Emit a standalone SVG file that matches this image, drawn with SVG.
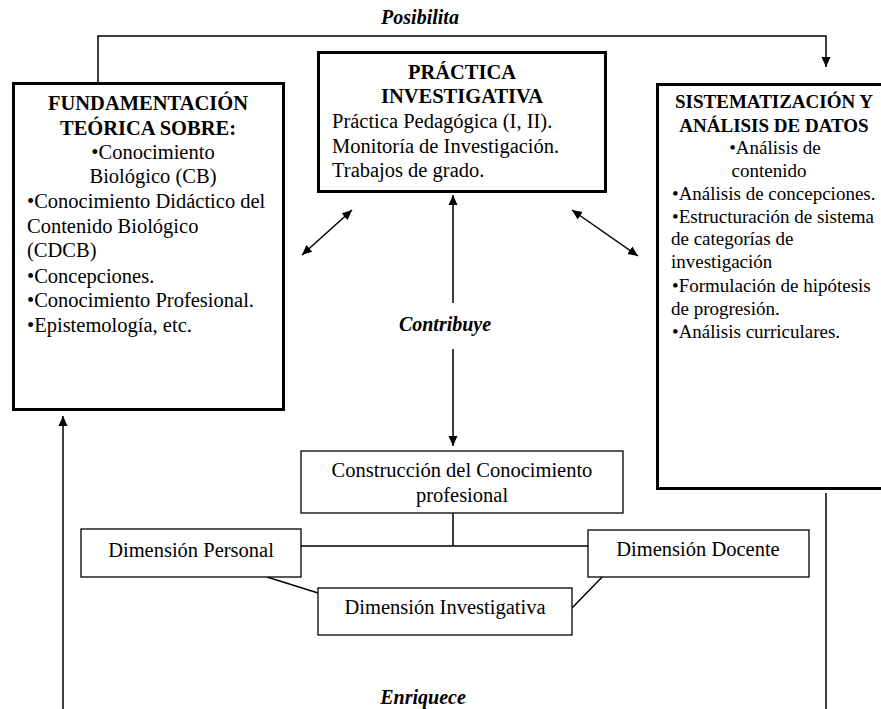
<svg xmlns="http://www.w3.org/2000/svg" width="881" height="709" viewBox="0 0 881 709">
<style>
  .thick { fill: #fff; stroke: #000; stroke-width: 3; }
  .thin { fill: #fff; stroke: #000; stroke-width: 1.3; }
  .conn { fill: none; stroke: #000; stroke-width: 1.5; }
  text { font-family: "Liberation Serif", "Times New Roman", serif; fill: #000; }
  .t { font-size: 20.5px; }
  .tb { font-size: 20.5px; font-weight: bold; }
  .r { font-size: 19px; }
  .rb { font-size: 19px; font-weight: bold; }
  .lbl { font-size: 20px; font-weight: bold; font-style: italic; }
  .c { text-anchor: middle; }
</style>
<defs>
  <marker id="ah" markerUnits="userSpaceOnUse" markerWidth="10" markerHeight="10" refX="10" refY="5" viewBox="0 0 10 10" orient="auto-start-reverse">
    <path d="M0,0.5 L10,5 L0,9.5 z" fill="#000"/>
  </marker>
</defs>

<g id="connectors">
  <polyline class="conn" points="98,82 98,36 826,36 826,67" marker-end="url(#ah)"/>
  <line class="conn" x1="826" y1="493" x2="826" y2="709"/>
  <line class="conn" x1="63" y1="709" x2="63" y2="416" marker-end="url(#ah)"/>
  <line class="conn" x1="302" y1="255" x2="352" y2="210" marker-start="url(#ah)" marker-end="url(#ah)"/>
  <line class="conn" x1="572" y1="210" x2="638" y2="256" marker-start="url(#ah)" marker-end="url(#ah)"/>
  <line class="conn" x1="453" y1="303" x2="453" y2="195" marker-end="url(#ah)"/>
  <line class="conn" x1="453" y1="349" x2="453" y2="446" marker-end="url(#ah)"/>
  <line class="conn" x1="453" y1="513" x2="453" y2="546"/>
  <line class="conn" x1="301" y1="546" x2="588" y2="546"/>
  <line class="conn" x1="267" y1="577" x2="318" y2="593"/>
  <line class="conn" x1="572" y1="608" x2="606" y2="573"/>
  <text class="lbl c" x="420" y="24">Posibilita</text>
  <text class="lbl c" x="445" y="331">Contribuye</text>
  <text class="lbl c" x="423" y="704">Enriquece</text>
</g>

<g id="fundamentacion">
  <rect class="thick" x="13.5" y="83.5" width="270" height="326"/>
  <text class="tb c" x="148" y="110">FUNDAMENTACIÓN</text>
  <text class="tb c" x="148" y="135">TEÓRICA SOBRE:</text>
  <text class="t c" x="153" y="159">•Conocimiento</text>
  <text class="t c" x="153" y="183">Biológico (CB)</text>
  <text class="t" x="27" y="208">•Conocimiento Didáctico del</text>
  <text class="t" x="27" y="233">Contenido Biológico</text>
  <text class="t" x="27" y="257">(CDCB)</text>
  <text class="t" x="27" y="283">•Concepciones.</text>
  <text class="t" x="27" y="307">•Conocimiento Profesional.</text>
  <text class="t" x="27" y="332">•Epistemología, etc.</text>
</g>

<g id="practica">
  <rect class="thick" x="318.5" y="52.5" width="287" height="139"/>
  <text class="tb c" x="462" y="79">PRÁCTICA</text>
  <text class="tb c" x="462" y="103">INVESTIGATIVA</text>
  <text class="t" x="332" y="128">Práctica Pedagógica (I, II).</text>
  <text class="t" x="332" y="153">Monitoría de Investigación.</text>
  <text class="t" x="332" y="177">Trabajos de grado.</text>
</g>

<g id="sistematizacion">
  <rect class="thick" x="657.5" y="84.5" width="230" height="404"/>
  <text class="rb c" x="774" y="108">SISTEMATIZACIÓN Y</text>
  <text class="rb c" x="774" y="132">ANÁLISIS DE DATOS</text>
  <text class="r c" x="775" y="154">•Análisis de</text>
  <text class="r c" x="769" y="177">contenido</text>
  <text class="r" x="672" y="200">•Análisis de concepciones.</text>
  <text class="r" x="672" y="223">•Estructuración de sistema</text>
  <text class="r" x="671" y="245">de categorías de</text>
  <text class="r" x="671" y="268">investigación</text>
  <text class="r" x="672" y="292">•Formulación de hipótesis</text>
  <text class="r" x="671" y="315">de progresión.</text>
  <text class="r" x="672" y="338">•Análisis curriculares.</text>
</g>

<g id="construccion">
  <rect class="thin" x="301" y="451" width="322" height="62"/>
  <text class="t c" x="462" y="477">Construcción del Conocimiento</text>
  <text class="t c" x="462" y="502">profesional</text>
</g>

<g id="dim-personal">
  <rect class="thin" x="81" y="529" width="220" height="48"/>
  <text class="t c" x="191" y="557">Dimensión Personal</text>
</g>

<g id="dim-docente">
  <rect class="thin" x="588" y="530" width="221" height="47"/>
  <text class="t c" x="698" y="556">Dimensión Docente</text>
</g>

<g id="dim-investigativa">
  <rect class="thin" x="318" y="588" width="254" height="47"/>
  <text class="t c" x="445" y="614">Dimensión Investigativa</text>
</g>
</svg>
